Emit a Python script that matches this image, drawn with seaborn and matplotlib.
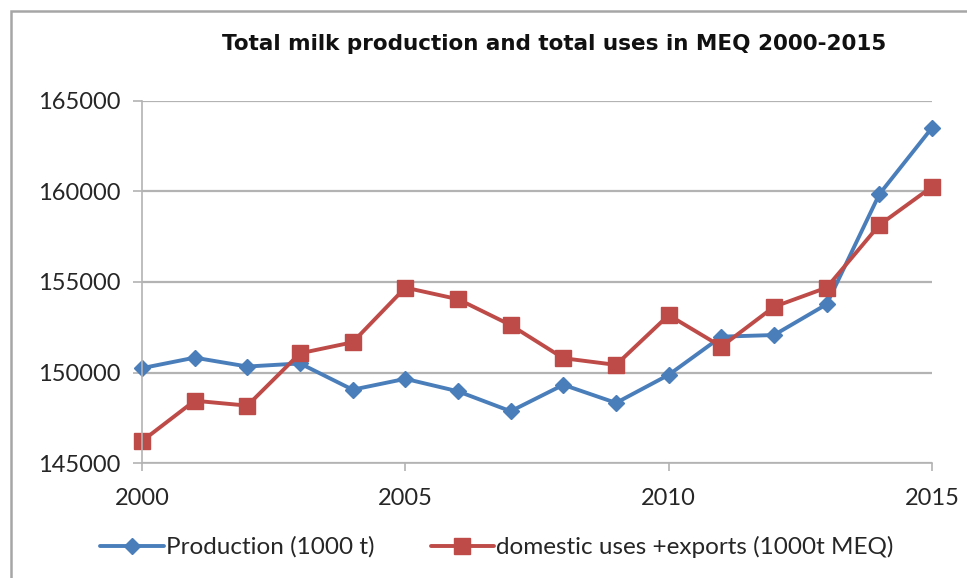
import pandas as pd
import seaborn as sns
import matplotlib.pyplot as plt
from matplotlib.patches import Rectangle

# Data
years = list(range(2000, 2016))
production = [150240, 150820, 150330, 150500, 149050, 149650, 148960, 147860,
              149320, 148320, 149870, 151980, 152070, 153770, 159850, 163520]
domestic_exports = [146210, 148440, 148170, 151060, 151670, 154690, 154050, 152620,
                    150790, 150420, 153170, 151430, 153630, 154690, 158150, 160260]
series_names = ["Production (1000 t)", "domestic uses +exports (1000t MEQ)"]
y_ticks = [145000, 150000, 155000, 160000, 165000]
x_ticks = [2000, 2005, 2010, 2015]

# Long-form table for seaborn
data = pd.DataFrame({
    "Year": years * 2,
    "Value": production + domestic_exports,
    "Series": [series_names[0]] * len(years) + [series_names[1]] * len(years),
})

sns.set_style("white")
plt.rcParams["font.family"] = ["Lato", "DejaVu Sans"]

fig = plt.figure(figsize=(9.67, 5.78), dpi=100)
ax = fig.add_axes([142 / 967, 1 - 463 / 578, (932 - 142) / 967, (463 - 101) / 578])

palette = {series_names[0]: "#4a7ebb", series_names[1]: "#be4b48"}
markers = {series_names[0]: "D", series_names[1]: "s"}

sns.lineplot(
    data=data, x="Year", y="Value", hue="Series", style="Series",
    palette=palette, markers=markers, dashes=False, linewidth=2.8,
    markersize=11, markeredgewidth=1, ax=ax,
)
# same-colour marker edges, diamonds a bit smaller, nothing clipped at the edges
for line in ax.lines:
    line.set_markeredgecolor(line.get_color())
    line.set_clip_on(False)
    if line.get_marker() == "D":
        line.set_markersize(8.5)

ax.set_xlim(2000, 2015)
ax.set_ylim(145000, 165000)
ax.set_xticks(x_ticks)
ax.set_yticks(y_ticks)
ax.set_xlabel("")
ax.set_ylabel("")

grid_col = "#b3b3b3"
ax.grid(axis="y", color=grid_col, linewidth=1.6)
ax.set_axisbelow(True)
for side in ["top", "right"]:
    ax.spines[side].set_visible(False)
for side in ["left", "bottom"]:
    ax.spines[side].set_color(grid_col)
    ax.spines[side].set_linewidth(1.2)
ax.tick_params(axis="y", length=6.5, width=1.2, color=grid_col, pad=9,
               labelsize=17, labelcolor="#262626", direction="out", left=True)
ax.tick_params(axis="x", length=6, width=1.2, color=grid_col, pad=12,
               labelsize=17, labelcolor="#262626", direction="out", bottom=True)

handles, labels = ax.get_legend_handles_labels()
ax.get_legend().remove()
for h in handles:
    h.set_markeredgecolor(h.get_color())
fig.legend(handles, labels, loc="center", bbox_to_anchor=(497 / 967, 1 - 547 / 578),
           ncol=2, frameon=False, fontsize=17.5, handlelength=2.6,
           handletextpad=0.1, columnspacing=2.3, labelcolor="#262626")

fig.text(554 / 967, 1 - 44 / 578, "Total milk production and total uses in MEQ 2000-2015",
         ha="center", va="center", fontsize=15.5, fontweight="bold",
         family=["DejaVu Sans"], color="#111111")

# chart area border (cut off at right and bottom in the reference)
fig.patches.append(Rectangle((11 / 967, -0.05), 1.2, 1 - 11 / 578 + 0.05,
                             transform=fig.transFigure, fill=False,
                             edgecolor="#a6a6a6", linewidth=1.8))

fig.savefig("out.png", dpi=100)
